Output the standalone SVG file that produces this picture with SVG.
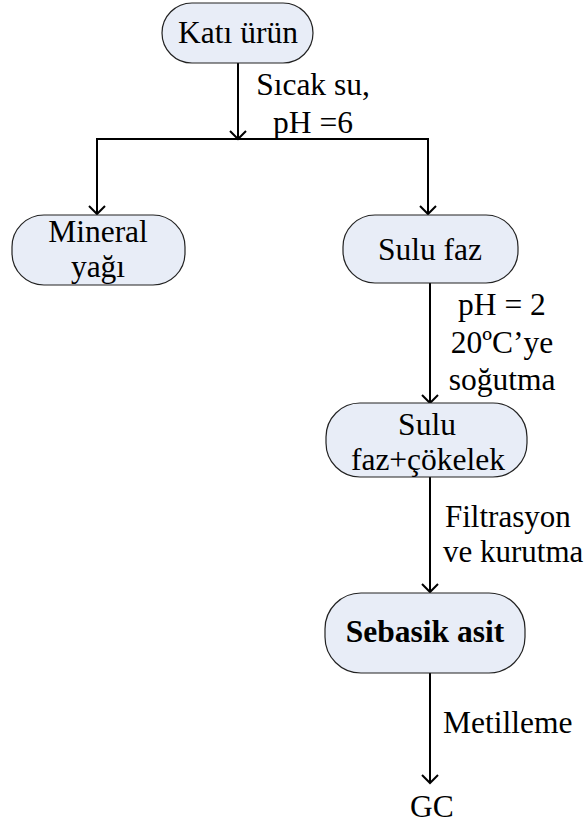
<svg xmlns="http://www.w3.org/2000/svg" width="584" height="822" viewBox="0 0 584 822">
<style>
.node{fill:#e8edf7;stroke:#222;stroke-width:1.2}
text{font-family:'Liberation Serif','Times New Roman','DejaVu Serif',serif;font-size:31.5px;fill:#000}
.c{text-anchor:middle}
.b{font-weight:bold}
.edge{fill:none;stroke:#000;stroke-width:2}
</style>
<defs>
<marker id="arr" markerUnits="userSpaceOnUse" viewBox="-12 -12 14 24" markerWidth="14" markerHeight="24" refX="0" refY="0" orient="auto">
<path d="M-8,-8 L0,0 L-8,8" fill="none" stroke="#000" stroke-width="2"/>
</marker>
</defs>
<rect width="584" height="822" fill="#fff"/>
<g id="connectors">
<line class="edge" x1="238" y1="63" x2="238" y2="139" marker-end="url(#arr)"/>
<line class="edge" x1="96" y1="139" x2="429" y2="139"/>
<line class="edge" x1="97" y1="139" x2="97" y2="214" marker-end="url(#arr)"/>
<line class="edge" x1="428" y1="139" x2="428" y2="214" marker-end="url(#arr)"/>
<line class="edge" x1="430" y1="283" x2="430" y2="403" marker-end="url(#arr)"/>
<line class="edge" x1="430" y1="477" x2="430" y2="592" marker-end="url(#arr)"/>
<line class="edge" x1="430" y1="673" x2="430" y2="783" marker-end="url(#arr)"/>
<text class="c" x="313" y="95" font-family="Liberation Serif, serif">Sıcak su,</text>
<text class="c" x="313" y="133">pH =6</text>
<text class="c" x="502" y="315">pH = 2</text>
<text class="c" x="502" y="353">20ºC’ye</text>
<text class="c" x="502" y="390">soğutma</text>
<text x="445" y="527" style="font-size:31px">Filtrasyon</text>
<text x="443" y="562" style="font-size:31px">ve kurutma</text>
<text x="443" y="733">Metilleme</text>
</g>
<g id="node-kati-urun">
<rect class="node" x="162" y="3" width="151" height="60" rx="30" ry="30"/>
<text class="c" x="238" y="43">Katı ürün</text>
</g>
<g id="node-mineral-yagi">
<rect class="node" x="12" y="215" width="173" height="70" rx="32" ry="32"/>
<text class="c" x="98" y="242">Mineral</text>
<text class="c" x="98" y="277">yağı</text>
</g>
<g id="node-sulu-faz">
<rect class="node" x="343" y="215" width="175" height="68" rx="32" ry="32"/>
<text class="c" x="430" y="260">Sulu faz</text>
</g>
<g id="node-sulu-faz-cokelek">
<rect class="node" x="326" y="403" width="201" height="74" rx="34" ry="34"/>
<text class="c" x="427" y="435">Sulu</text>
<text class="c" x="428" y="470">faz+çökelek</text>
</g>
<g id="node-sebasik-asit">
<rect class="node" x="325" y="593" width="200" height="80" rx="36" ry="36"/>
<text class="c b" x="425" y="642">Sebasik asit</text>
</g>
<g id="node-gc">
<text class="c" x="432" y="817">GC</text>
</g>
</svg>
